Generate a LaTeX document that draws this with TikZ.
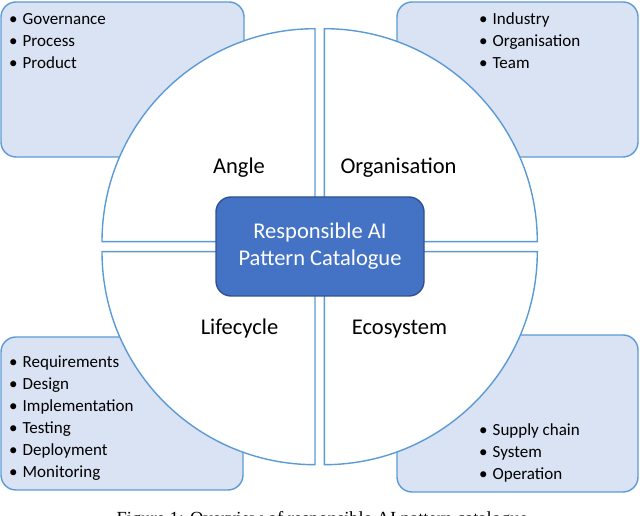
\documentclass[tikz,border=0pt]{standalone}
\usepackage{fontspec}
\setmainfont{Carlito}
\newfontfamily\capfont{Liberation Serif}
\usetikzlibrary{shapes,positioning}

\definecolor{listfill}{HTML}{DAE3F3}
\definecolor{lineblue}{HTML}{5B9BD5}
\definecolor{hubfill}{HTML}{4472C4}
\definecolor{hubline}{HTML}{2F528F}

\begin{document}
\begin{tikzpicture}[x=1pt,y=1pt,line width=1.4pt]
\tikzstyle{cornerbox}=[draw=lineblue,fill=listfill,rounded corners=15pt,inner sep=0pt]
\tikzstyle{itemlist}=[align=left,inner sep=0pt,anchor=base west,font=\fontsize{17}{22}\selectfont]
\tikzstyle{quarter}=[draw=lineblue,fill=white]
\tikzstyle{sector}=[anchor=base,font=\fontsize{22.5}{27}\selectfont]
\tikzstyle{hub}=[draw=hubline,fill=hubfill,text=white,rounded corners=15pt,minimum width=208pt,minimum height=99pt,align=center,font=\fontsize{22.5}{27}\selectfont]
\newcommand{\itm}[1]{\makebox[13.5pt][l]{\textbullet}#1}
\useasboundingbox (0,0) rectangle (640,516);
% corner boxes with the lists
\node[cornerbox,minimum width=243pt,minimum height=155pt] (angbox) at (122.5,436.5) {};
\node[cornerbox,minimum width=241pt,minimum height=155pt] (orgbox) at (517.5,436.5) {};
\node[cornerbox,minimum width=242pt,minimum height=153pt] (lifbox) at (122,102.5) {};
\node[cornerbox,minimum width=241pt,minimum height=157pt] (ecobox) at (517.5,102.5) {};
\node[itemlist] (anglist) at (8.5,447.5) {\itm{Governance}\\\itm{Process}\\\itm{Product}};
\node[itemlist] (orglist) at (478.5,447.5) {\itm{Industry}\\\itm{Organisation}\\\itm{Team}};
\node[itemlist] (liflist) at (8.5,38.5) {\itm{Requirements}\\\itm{Design}\\\itm{Implementation}\\\itm{Testing}\\\itm{Deployment}\\\itm{Monitoring}};
\node[itemlist] (ecolist) at (478.5,36.5) {\itm{Supply chain}\\\itm{System}\\\itm{Operation}};
% the four quarters of the circle
\draw[quarter] (315,274.3) -- (102,274.3) arc (180:90:213) -- cycle;
\draw[quarter] (324.3,274.3) -- (324.3,487.3) arc (90:0:213) -- cycle;
\draw[quarter] (315,264.3) -- (102,264.3) arc (180:270:213) -- cycle;
\draw[quarter] (324.3,264.3) -- (537.3,264.3) arc (0:-90:213) -- cycle;
\node[sector] (angle) at (239,342) {Angle};
\node[sector] (organisation) at (398.5,342) {Organisation};
\node[sector] (lifecycle) at (239.5,181) {Lifecycle};
\node[sector] (ecosystem) at (399.5,181) {Ecosystem};
\node[hub] (catalogue) at (320,269.5) {Responsible AI\\Pattern Catalogue};
% caption, cut by the page edge
\node[anchor=base west,inner sep=0pt,font=\capfont\fontsize{18.5}{22}\selectfont] (caption) at (116,-9) {Figure 1: Overview of responsible AI pattern catalogue};
\end{tikzpicture}
\end{document}
